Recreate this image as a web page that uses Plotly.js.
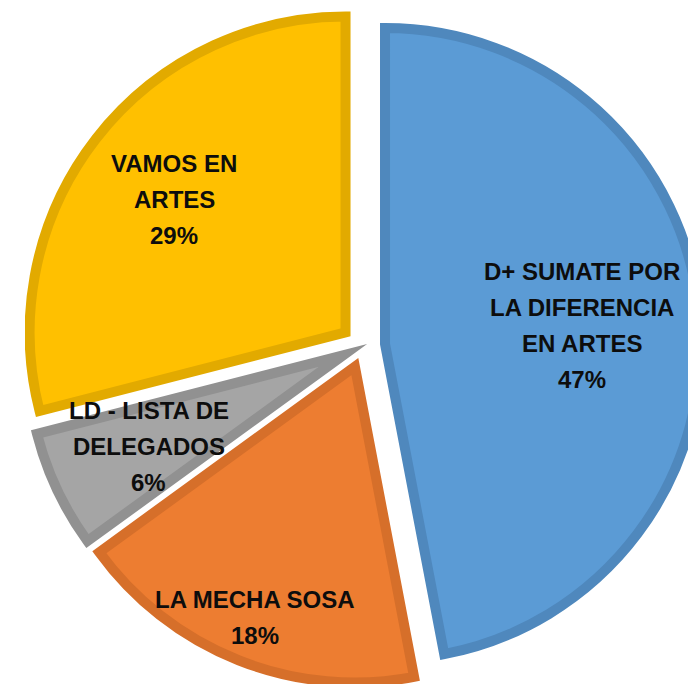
<!DOCTYPE html>
<html>
<head>
<meta charset="utf-8">
<script src="https://cdn.plot.ly/plotly-3.0.1.min.js"></script>
<style>
html, body { margin: 0; padding: 0; background: #ffffff; overflow: hidden; width: 688px; height: 685px; }
#chart { position: absolute; left: 25px; top: 8px; width: 676px; height: 676px; }
#chart .slice path { stroke-linejoin: miter !important; stroke-miterlimit: 10 !important; }
</style>
</head>
<body>
<div id="chart"></div>
<script>
// Data
var categories = ["D+ SUMATE POR LA DIFERENCIA EN ARTES", "LA MECHA SOSA", "LD - LISTA DE DELEGADOS", "VAMOS EN ARTES"];
var displayLines = [
  ["D+ SUMATE POR", "LA DIFERENCIA", "EN ARTES"],
  ["LA MECHA SOSA"],
  ["LD - LISTA DE", "DELEGADOS"],
  ["VAMOS EN", "ARTES"]
];
var values = [47, 18, 6, 29];

// Styles
var fillColors = ["#5B9BD5", "#ED7D31", "#A5A5A5", "#FFC000"];
var lineColors = ["#4F88BD", "#D66F2A", "#919191", "#E2AA00"];
var pulls = [0.07, 0.07, 0.07, 0.07];
var labelRadius = [0.627, 0.855, 0.68, 0.686]; // fraction of radius from slice apex
var size = 676;
var lineWidth = 10;
var fontSize = 24;
var lineGap = 36;

var maxPull = Math.max.apply(null, pulls);
var r = size / (2 + 2 * maxPull);
var total = values.reduce(function(a, b) { return a + b; }, 0);

var annotations = [];
var cum = 0;
for (var i = 0; i < values.length; i++) {
  var mid = 2 * Math.PI * (cum + values[i] / 2) / total;
  cum += values[i];
  var dist = (pulls[i] + labelRadius[i]) * r;
  var cx = Math.sin(mid) * dist;
  var cy = Math.cos(mid) * dist; // up positive
  var lines = displayLines[i].concat([Math.round(values[i] / total * 100) + "%"]);
  var n = lines.length;
  for (var j = 0; j < n; j++) {
    annotations.push({
      x: 0.5, y: 0.5, xref: "paper", yref: "paper",
      xanchor: "center", yanchor: "middle",
      xshift: cx, yshift: cy - (j - (n - 1) / 2) * lineGap,
      text: lines[j], showarrow: false,
      font: { family: "Liberation Sans, Arial, sans-serif", size: fontSize, color: "#0d0d0d", weight: 700 }
    });
  }
}

var trace = {
  type: "pie",
  labels: categories,
  values: values,
  sort: false,
  direction: "clockwise",
  rotation: 0,
  pull: pulls,
  textinfo: "none",
  hoverinfo: "none",
  marker: { colors: fillColors, line: { color: lineColors, width: lineWidth } }
};

var layout = {
  width: size, height: size,
  margin: { l: 0, r: 0, t: 0, b: 0, pad: 0 },
  showlegend: false,
  paper_bgcolor: "#ffffff",
  plot_bgcolor: "#ffffff",
  annotations: annotations
};

Plotly.newPlot("chart", [trace], layout, { staticPlot: true, displayModeBar: false });
</script>
</body>
</html>
